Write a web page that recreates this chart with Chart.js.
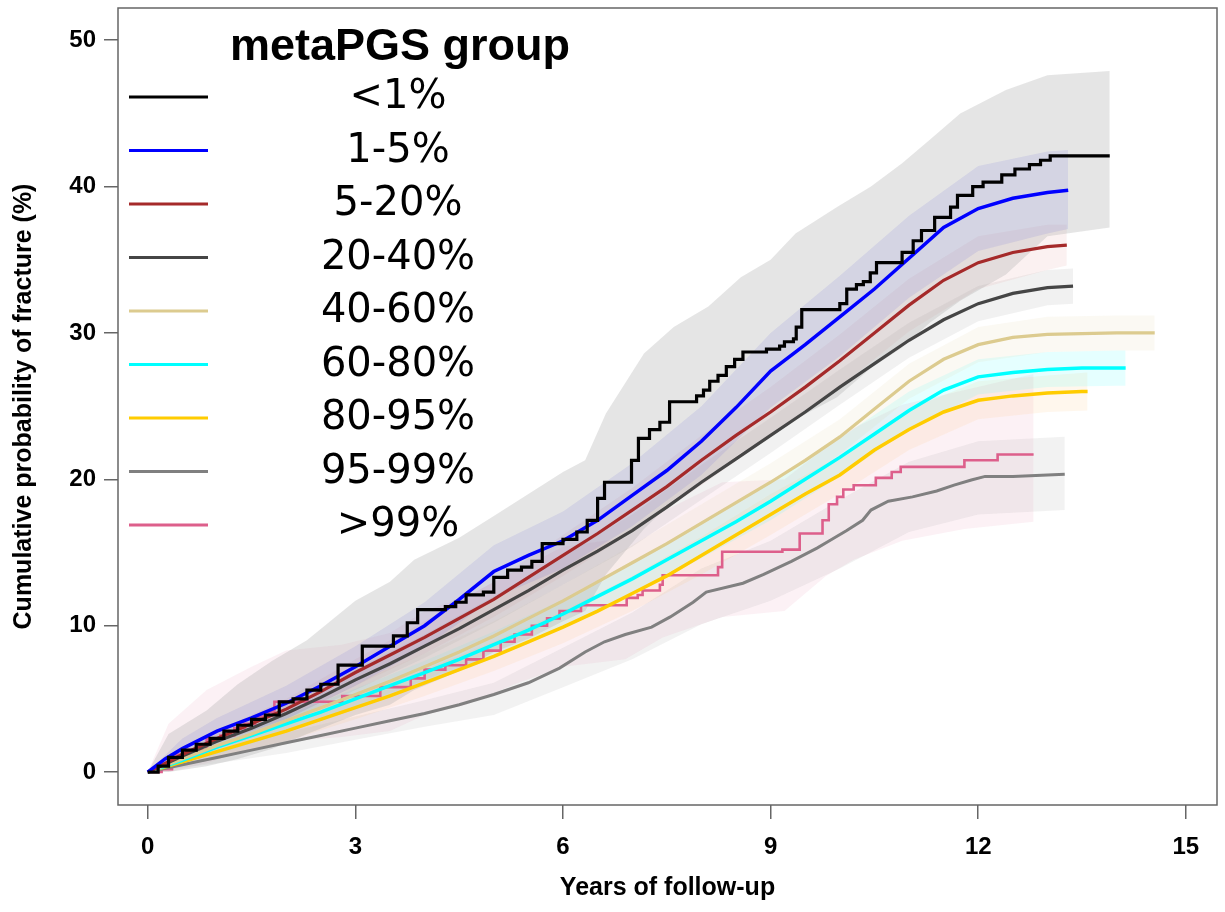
<!DOCTYPE html>
<html>
<head>
<meta charset="utf-8">
<script src="https://cdn.jsdelivr.net/npm/chart.js@4.4.1/dist/chart.umd.min.js"></script>
<style>
  html, body { margin: 0; padding: 0; background: #fff; }
  #wrap { width: 1225px; height: 912px; }
</style>
</head>
<body>
<div id="wrap"><canvas id="kmChart"></canvas></div>
<script>
// nhóm metaPGS
const groupLabels = ["<1%", "1-5%", "5-20%", "20-40%", "40-60%", "60-80%", "80-95%", "95-99%", ">99%"];
const lineColors = ["#000000", "#0000ff", "#a52a2a", "#454545", "#dccb8f", "#00ffff", "#ffcc00", "#808080", "#dd5f8b"];
const bandColors = [
  "rgba(170, 170, 170, 0.3)",
  "rgba(50, 50, 230, 0.12)",
  "rgba(200, 80, 80, 0.08)",
  "rgba(120, 120, 120, 0.1)",
  "rgba(220, 200, 140, 0.1)",
  "rgba(0, 255, 255, 0.1)",
  "rgba(255, 180, 80, 0.1)",
  "rgba(150, 150, 150, 0.12)",
  "rgba(230, 120, 160, 0.1)",
];
const xTicks = [0, 3, 6, 9, 12, 15];
const yTicks = [0, 10, 20, 30, 40, 50];

// <1%
const t_lt1 = [0, 0.15, 0.3, 0.5, 0.7, 0.9, 1.1, 1.3, 1.5, 1.7, 1.9, 2.1, 2.3, 2.5, 2.75, 3.1, 3.55, 3.75, 3.9, 4.3, 4.45, 4.6, 4.85, 5.0, 5.2, 5.4, 5.55, 5.7, 6.0, 6.2, 6.35, 6.5, 6.6, 6.99, 7.09, 7.25, 7.4, 7.54, 7.93, 8.03, 8.12, 8.24, 8.36, 8.48, 8.6, 8.94, 9.13, 9.2, 9.33, 9.37, 9.45, 10.0, 10.1, 10.24, 10.34, 10.44, 10.53, 10.9, 11.06, 11.18, 11.37, 11.6, 11.7, 11.92, 12.07, 12.34, 12.53, 12.74, 12.9, 13.04, 13.9];
const est_lt1 = [0, 0.4, 1.0, 1.5, 1.9, 2.3, 2.8, 3.2, 3.6, 3.9, 4.8, 5.0, 5.6, 6.0, 7.3, 8.6, 9.3, 10.2, 11.1, 11.3, 11.6, 12.1, 12.3, 13.3, 13.8, 14.0, 14.4, 15.6, 15.9, 16.4, 17.2, 18.7, 19.8, 21.3, 22.8, 23.4, 23.9, 25.3, 25.7, 26.1, 26.7, 27.1, 27.7, 28.2, 28.7, 28.9, 29.1, 29.4, 29.6, 30.4, 31.6, 32.0, 33.0, 33.3, 33.5, 34.1, 34.8, 35.5, 36.3, 37.0, 37.9, 38.6, 39.4, 40.0, 40.3, 40.8, 41.2, 41.5, 41.8, 42.1, 42.1];
const bt_lt1 = [0, 0.3, 0.85, 1.3, 1.8, 2.3, 3.0, 3.5, 3.85, 4.5, 5.0, 5.5, 6.0, 6.32, 6.62, 7.17, 7.6, 8.1, 8.57, 9.0, 9.36, 9.96, 10.45, 10.9, 11.3, 11.74, 12.4, 13.0, 13.9];
const lo_lt1 = [0, 0, 0.4, 0.9, 1.6, 2.6, 3.9, 4.6, 5.6, 6.9, 8.2, 9.1, 10.3, 11.0, 13.5, 16.6, 18.6, 20.2, 21.8, 22.9, 24.1, 25.6, 27.6, 29.0, 30.7, 32.2, 34.0, 36.6, 37.2];
const hi_lt1 = [0, 2.6, 4.2, 6.0, 7.6, 9.0, 11.7, 13.0, 14.5, 16.0, 17.5, 19.0, 20.5, 21.3, 24.5, 28.6, 30.4, 31.8, 33.8, 35.0, 36.8, 38.6, 40.0, 41.6, 43.2, 45.0, 46.6, 47.6, 47.9];

// 1-5%
const t_1to5 = [0, 0.25, 0.5, 1, 1.5, 2, 2.5, 3, 3.5, 4, 4.5, 5, 5.5, 6, 6.5, 7, 7.5, 8, 8.5, 9, 9.5, 10, 10.5, 11, 11.5, 12, 12.5, 13, 13.3];
const est_1to5 = [0, 0.9, 1.6, 2.8, 3.7, 4.7, 5.9, 7.2, 8.6, 10.0, 11.8, 13.7, 14.8, 15.8, 17.2, 18.9, 20.6, 22.6, 24.9, 27.4, 29.2, 31.1, 33.0, 35.1, 37.2, 38.5, 39.2, 39.6, 39.75];
const bt_1to5 = [0, 0.5, 1, 2, 3, 4, 5, 6, 7, 8, 9, 10, 11, 12, 13, 13.3];
const lo_1to5 = [0, 1.0, 2.0, 3.6, 5.9, 8.5, 11.9, 13.9, 16.8, 20.3, 24.9, 28.4, 32.4, 35.6, 36.8, 37.1];
const hi_1to5 = [0, 2.3, 3.7, 5.9, 8.6, 11.6, 15.5, 17.8, 21.1, 25.0, 30.0, 33.9, 38.0, 41.4, 42.4, 42.5];

// 5-20%
const t_5to20 = [0, 0.5, 1, 1.5, 2, 2.5, 3, 3.5, 4, 4.5, 5, 5.5, 6, 6.5, 7, 7.5, 8, 8.5, 9, 9.5, 10, 10.5, 11, 11.5, 12, 12.5, 13, 13.28];
const est_5to20 = [0, 1.2, 2.3, 3.3, 4.3, 5.5, 6.8, 8.0, 9.2, 10.5, 11.8, 13.3, 14.8, 16.3, 17.9, 19.5, 21.3, 23.0, 24.6, 26.3, 28.1, 30.0, 31.9, 33.6, 34.8, 35.5, 35.9, 36.0];
const bt_5to20 = [0, 1, 2, 3, 4, 5, 6, 7, 8, 9, 10, 11, 12, 13, 13.28];
const lo_5to20 = [0, 1.8, 3.6, 5.9, 8.1, 10.6, 13.4, 16.4, 19.6, 22.9, 26.3, 30.1, 33.0, 34.3, 34.6];
const hi_5to20 = [0, 2.8, 5.0, 7.7, 10.3, 13.0, 16.2, 19.4, 23.0, 26.3, 29.9, 33.7, 36.6, 37.4, 37.4];

// 20-40%
const t_20to40 = [0, 0.5, 1, 1.5, 2, 2.5, 3, 3.5, 4, 4.5, 5, 5.5, 6, 6.5, 7, 7.5, 8, 8.5, 9, 9.5, 10, 10.5, 11, 11.5, 12, 12.5, 13, 13.37];
const est_20to40 = [0, 1.1, 2.1, 3.0, 4.0, 5.1, 6.3, 7.4, 8.6, 9.8, 11.1, 12.4, 13.8, 15.1, 16.5, 18.1, 19.8, 21.4, 23.0, 24.6, 26.3, 27.9, 29.5, 30.9, 32.0, 32.7, 33.1, 33.2];
const bt_20to40 = [0, 1, 2, 3, 4, 5, 6, 7, 8, 9, 10, 11, 12, 13, 13.37];
const lo_20to40 = [0, 1.6, 3.4, 5.6, 7.8, 10.2, 12.8, 15.4, 18.6, 21.8, 25.1, 28.3, 30.8, 31.9, 32.0];
const hi_20to40 = [0, 2.6, 4.6, 7.0, 9.4, 12.0, 14.8, 17.6, 21.0, 24.2, 27.5, 30.7, 33.2, 34.3, 34.4];

// 40-60%
const t_40to60 = [0, 0.5, 1, 1.5, 2, 2.5, 3, 3.5, 4, 4.5, 5, 5.5, 6, 6.5, 7, 7.5, 8, 8.5, 9, 9.5, 10, 10.5, 11, 11.5, 12, 12.5, 13, 13.5, 14, 14.55];
const est_40to60 = [0, 0.9, 1.8, 2.6, 3.5, 4.4, 5.3, 6.2, 7.2, 8.2, 9.3, 10.5, 11.7, 13.0, 14.3, 15.6, 17.0, 18.4, 19.8, 21.3, 22.9, 24.8, 26.7, 28.2, 29.2, 29.7, 29.9, 29.95, 30.0, 30.0];
const bt_40to60 = [0, 1, 2, 3, 4, 5, 6, 7, 8, 9, 10, 11, 12, 13, 14, 14.55];
const lo_40to60 = [0, 1.3, 2.8, 4.5, 6.3, 8.3, 10.6, 13.1, 15.7, 18.5, 21.7, 25.5, 28.0, 28.7, 28.8, 28.8];
const hi_40to60 = [0, 2.3, 4.2, 6.1, 8.1, 10.3, 12.8, 15.5, 18.3, 21.1, 24.1, 27.9, 30.4, 31.1, 31.2, 31.2];

// 60-80%
const t_60to80 = [0, 0.5, 1, 1.5, 2, 2.5, 3, 3.5, 4, 4.5, 5, 5.5, 6, 6.5, 7, 7.5, 8, 8.5, 9, 9.5, 10, 10.5, 11, 11.5, 12, 12.5, 13, 13.5, 14, 14.13];
const est_60to80 = [0, 0.8, 1.7, 2.5, 3.3, 4.1, 5.0, 5.9, 6.8, 7.7, 8.7, 9.7, 10.8, 12.0, 13.2, 14.5, 15.8, 17.1, 18.5, 20.0, 21.5, 23.1, 24.7, 26.1, 27.0, 27.3, 27.5, 27.6, 27.6, 27.6];
const bt_60to80 = [0, 1, 2, 3, 4, 5, 6, 7, 8, 9, 10, 11, 12, 13, 14, 14.13];
const lo_60to80 = [0, 1.2, 2.7, 4.3, 6.0, 7.8, 9.8, 12.1, 14.6, 17.2, 20.2, 23.4, 25.8, 26.3, 26.4, 26.4];
const hi_60to80 = [0, 2.2, 3.9, 5.7, 7.6, 9.6, 11.8, 14.3, 17.0, 19.8, 22.8, 26.0, 28.2, 28.7, 28.8, 28.8];

// 80-95%
const t_80to95 = [0, 0.5, 1, 1.5, 2, 2.5, 3, 3.5, 4, 4.5, 5, 5.5, 6, 6.5, 7, 7.5, 8, 8.5, 9, 9.5, 10, 10.5, 11, 11.5, 12, 12.5, 13, 13.5, 13.58];
const est_80to95 = [0, 0.7, 1.4, 2.1, 2.8, 3.6, 4.4, 5.2, 6.1, 7.0, 7.9, 8.9, 9.9, 11.0, 12.2, 13.4, 14.8, 16.2, 17.6, 19.0, 20.3, 22.0, 23.4, 24.6, 25.4, 25.7, 25.9, 26.0, 26.0];
const bt_80to95 = [0, 1, 2, 3, 4, 5, 6, 7, 8, 9, 10, 11, 12, 13, 13.58];
const lo_80to95 = [0, 0.9, 2.1, 3.6, 5.2, 6.9, 8.8, 11.0, 13.5, 16.2, 19.0, 22.0, 24.1, 24.6, 24.7];
const hi_80to95 = [0, 1.9, 3.5, 5.2, 7.0, 8.9, 11.0, 13.4, 16.1, 19.0, 21.6, 24.8, 26.7, 27.1, 27.3];

// 95-99%
const t_95to99 = [0, 0.5, 1, 1.5, 2, 2.5, 3, 3.5, 4, 4.5, 5, 5.5, 5.95, 6.32, 6.6, 6.9, 7.28, 7.55, 7.88, 8.07, 8.6, 8.9, 9.3, 9.67, 9.85, 10.1, 10.33, 10.45, 10.7, 11.05, 11.4, 11.65, 11.9, 12.1, 12.5, 13.0, 13.25];
const est_95to99 = [0, 0.5, 1.0, 1.5, 2.0, 2.5, 3.0, 3.5, 4.0, 4.6, 5.3, 6.1, 7.1, 8.2, 8.9, 9.4, 9.9, 10.6, 11.6, 12.3, 12.9, 13.5, 14.4, 15.3, 15.8, 16.5, 17.2, 17.9, 18.5, 18.8, 19.2, 19.6, 19.95, 20.2, 20.2, 20.3, 20.35];
const bt_95to99 = [0, 1, 2, 3, 4, 5, 6, 7, 8, 9, 10, 11, 12, 13.25];
const lo_95to99 = [0, 0.6, 1.3, 2.2, 3.1, 3.9, 5.8, 7.7, 10.1, 11.7, 13.9, 16.4, 17.6, 17.9];
const hi_95to99 = [0, 1.5, 2.7, 3.8, 4.9, 6.1, 8.5, 10.9, 13.9, 15.8, 18.6, 21.2, 22.6, 22.9];

// >99%
const t_gt99 = [0, 0.2, 0.35, 0.5, 0.85, 1.05, 1.25, 1.4, 1.55, 1.75, 1.83, 2.81, 3.36, 3.8, 4.0, 4.3, 4.6, 4.85, 5.1, 5.3, 5.55, 5.77, 5.95, 6.26, 6.92, 7.08, 7.15, 7.4, 7.44, 8.24, 8.3, 9.17, 9.42, 9.75, 9.84, 9.96, 10.05, 10.2, 10.52, 10.75, 10.88, 11.8, 12.28, 12.8];
const est_gt99 = [0, 0.2, 1.2, 1.5, 2.3, 2.5, 3.0, 3.3, 3.8, 4.1, 4.8, 5.2, 5.8, 6.4, 7.0, 7.3, 7.7, 8.3, 8.9, 9.4, 10.0, 10.5, 11.0, 11.4, 11.9, 12.1, 12.4, 12.8, 13.45, 14.0, 15.05, 15.2, 16.3, 17.2, 18.3, 18.8, 19.3, 19.6, 20.1, 20.5, 20.85, 21.3, 21.7, 21.7];
const bt_gt99 = [0, 0.3, 0.85, 1.5, 2.0, 2.8, 3.5, 4.0, 4.6, 5.3, 6.0, 6.9, 7.44, 8.3, 9.2, 9.8, 10.2, 10.9, 11.8, 12.8];
const lo_gt99 = [0, 0, 0.6, 1.6, 2.1, 2.4, 2.8, 3.9, 4.6, 6.0, 7.2, 7.7, 9.2, 10.6, 11.0, 13.4, 14.5, 15.8, 16.6, 17.1];
const hi_gt99 = [0, 3.3, 5.6, 7.2, 8.3, 8.7, 9.5, 11.0, 12.0, 13.7, 15.4, 16.0, 17.8, 19.8, 20.0, 22.2, 23.5, 25.1, 26.1, 27.2];

function pts(xs, ys) {
  return xs.map((x, i) => ({ x: x, y: ys[i] }));
}

const groups = [
  { t: t_lt1, est: est_lt1, bt: bt_lt1, lo: lo_lt1, hi: hi_lt1, stepped: true, width: 3.2 },
  { t: t_1to5, est: est_1to5, bt: bt_1to5, lo: lo_1to5, hi: hi_1to5, stepped: false, width: 3.5 },
  { t: t_5to20, est: est_5to20, bt: bt_5to20, lo: lo_5to20, hi: hi_5to20, stepped: false, width: 3.2 },
  { t: t_20to40, est: est_20to40, bt: bt_20to40, lo: lo_20to40, hi: hi_20to40, stepped: false, width: 3.2 },
  { t: t_40to60, est: est_40to60, bt: bt_40to60, lo: lo_40to60, hi: hi_40to60, stepped: false, width: 3.2 },
  { t: t_60to80, est: est_60to80, bt: bt_60to80, lo: lo_60to80, hi: hi_60to80, stepped: false, width: 3.5 },
  { t: t_80to95, est: est_80to95, bt: bt_80to95, lo: lo_80to95, hi: hi_80to95, stepped: false, width: 3.5 },
  { t: t_95to99, est: est_95to99, bt: bt_95to99, lo: lo_95to99, hi: hi_95to99, stepped: false, width: 3 },
  { t: t_gt99, est: est_gt99, bt: bt_gt99, lo: lo_gt99, hi: hi_gt99, stepped: true, width: 2.6 },
];

const lineSets = groups.map((g, i) => ({
  label: groupLabels[i],
  data: pts(g.t, g.est),
  borderColor: lineColors[i],
  borderWidth: g.width,
  pointRadius: 0,
  stepped: g.stepped,
  fill: false,
  order: 0,
}));

const bandSets = [];
groups.forEach((g, i) => {
  bandSets.push({
    label: groupLabels[i] + " upper",
    data: pts(g.bt, g.hi),
    borderColor: "rgba(0,0,0,0)",
    borderWidth: 0,
    backgroundColor: bandColors[i],
    pointRadius: 0,
    fill: "+1",
    order: 1,
  });
  bandSets.push({
    label: groupLabels[i] + " lower",
    data: pts(g.bt, g.lo),
    borderColor: "rgba(0,0,0,0)",
    borderWidth: 0,
    pointRadius: 0,
    fill: false,
    order: 1,
  });
});

// khung + chú thích
const frameLegend = {
  id: "frameLegend",
  afterDraw(chart) {
    const ctx = chart.ctx;
    const a = chart.chartArea;
    ctx.save();
    ctx.strokeStyle = "#666666";
    ctx.lineWidth = 1.5;
    ctx.strokeRect(a.left, a.top, a.right - a.left, a.bottom - a.top);

    ctx.fillStyle = "#000";
    ctx.textAlign = "center";
    ctx.textBaseline = "middle";
    ctx.font = "bold 45px 'Liberation Sans', Arial, sans-serif";
    ctx.fillText("metaPGS group", a.left + 282, a.top + 40);

    ctx.font = "40px 'DejaVu Sans', sans-serif";
    groupLabels.forEach((lab, i) => {
      const y = a.top + 89 + i * 53.5;
      ctx.strokeStyle = lineColors[i];
      ctx.lineWidth = 3;
      ctx.beginPath();
      ctx.moveTo(a.left + 11, y);
      ctx.lineTo(a.left + 90, y);
      ctx.stroke();
      ctx.fillText(lab, a.left + 280, y + 1);
    });
    ctx.restore();
  },
};

const tickFont = { family: "'Liberation Sans', Arial, sans-serif", size: 24, weight: "bold" };
const titleFont = { family: "'Liberation Sans', Arial, sans-serif", size: 25, weight: "bold" };

new Chart(document.getElementById("kmChart").getContext("2d"), {
  type: "line",
  data: { datasets: lineSets.concat(bandSets) },
  options: {
    responsive: true,
    maintainAspectRatio: false,
    animation: false,
    events: [],
    layout: { padding: { left: 0, right: 8, top: 8, bottom: 0 } },
    plugins: {
      legend: { display: false },
      tooltip: { enabled: false },
    },
    scales: {
      x: {
        type: "linear",
        min: -0.43,
        max: 15.45,
        afterBuildTicks: (s) => { s.ticks = xTicks.map((v) => ({ value: v })); },
        afterFit: (s) => { s.height = 107; s.paddingLeft = 0; s.paddingRight = 0; },
        ticks: { font: tickFont, color: "#000", padding: 14, maxRotation: 0 },
        grid: { drawOnChartArea: false, drawTicks: true, tickLength: 14, color: "#666666", lineWidth: 1.5 },
        border: { display: false },
        title: { display: true, text: "Years of follow-up", font: titleFont, color: "#000", padding: { top: 0, bottom: 9 } },
      },
      y: {
        type: "linear",
        min: -2.25,
        max: 52.2,
        afterBuildTicks: (s) => { s.ticks = yTicks.map((v) => ({ value: v })); },
        afterFit: (s) => { s.width = 118; s.paddingTop = 0; s.paddingBottom = 0; },
        ticks: { font: tickFont, color: "#000", padding: 8 },
        grid: { drawOnChartArea: false, drawTicks: true, tickLength: 14, color: "#666666", lineWidth: 1.5 },
        border: { display: false },
        title: { display: true, text: "Cumulative probability of fracture (%)", font: titleFont, color: "#000", padding: { top: 9, bottom: 0 } },
      },
    },
  },
  plugins: [frameLegend],
});
</script>
</body>
</html>
